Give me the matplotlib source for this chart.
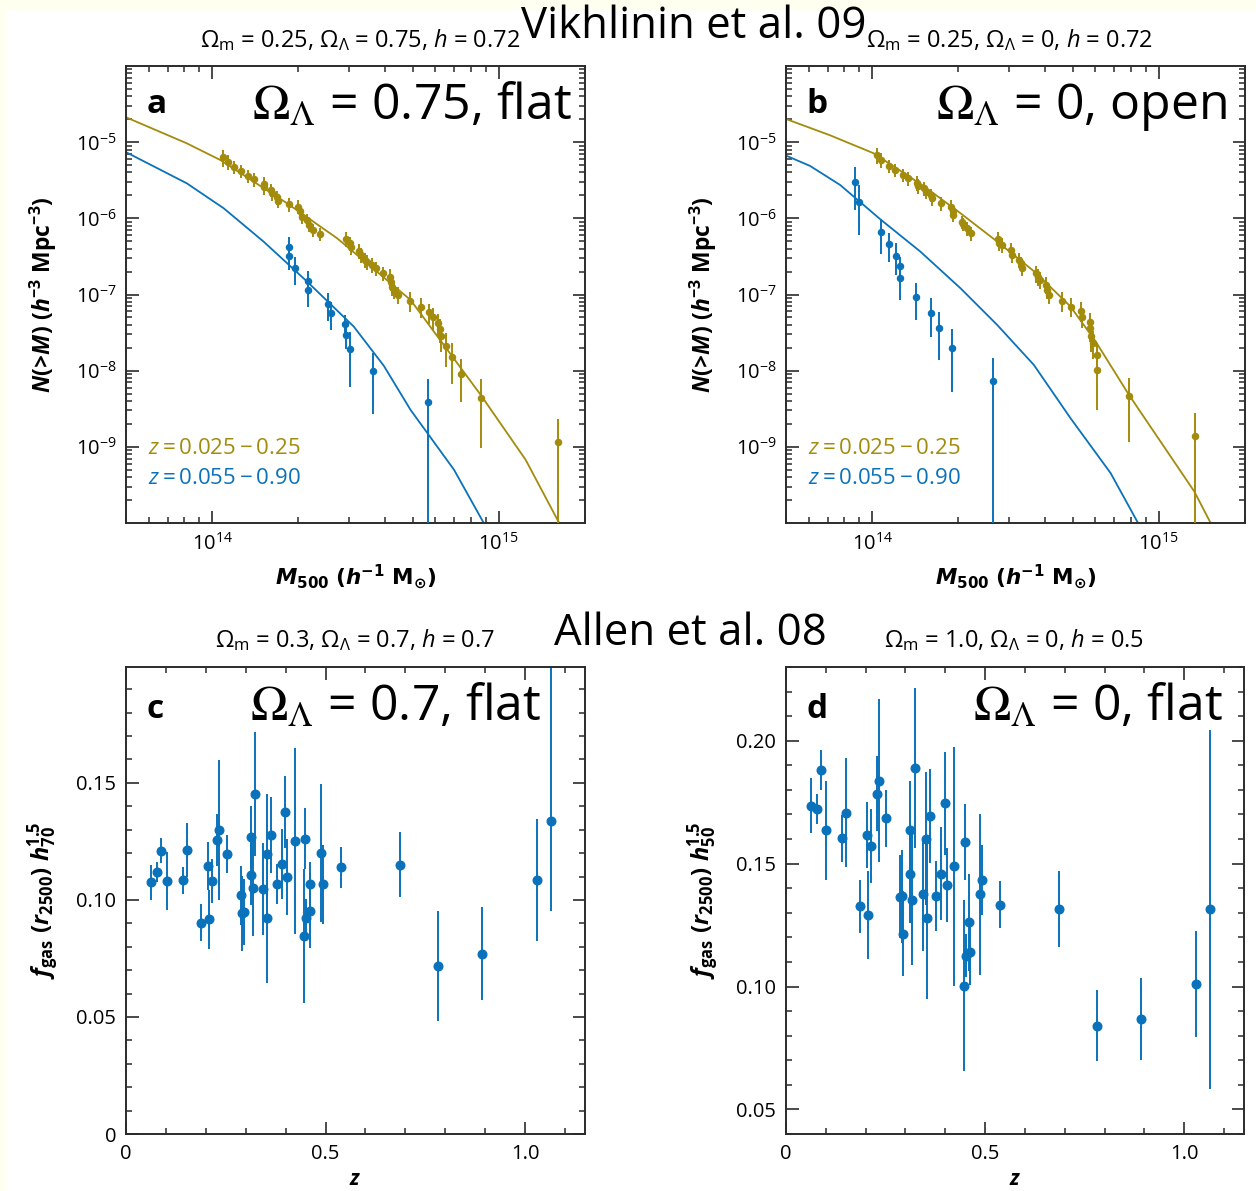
import numpy as np
import matplotlib
matplotlib.use('Agg')
import matplotlib.pyplot as plt
from matplotlib.patches import Rectangle
from matplotlib.ticker import MultipleLocator, FixedLocator

plt.rcParams['font.family'] = ['Open Sans', 'DejaVu Sans']
plt.rcParams['mathtext.fontset'] = 'custom'
plt.rcParams['mathtext.rm'] = 'Open Sans'
plt.rcParams['mathtext.it'] = 'Open Sans:italic'
plt.rcParams['mathtext.bf'] = 'Open Sans:bold'
plt.rcParams['mathtext.bfit'] = 'Open Sans:italic:bold'

OLIVE = '#A38B0C'
BLUE = '#0A72BA'

# ---------------- Vikhlinin et al. 09 : cumulative mass functions ----------------
# model curves (log10 M, log10 N)
a_low_logM = [13.702, 13.911, 14.028, 14.261, 14.436, 14.692, 14.937, 15.094, 15.225]
a_low_logN = [-4.678, -5.015, -5.234, -5.802, -6.262, -7.071, -8.318, -9.171, -10.10]
a_high_logM = [13.702, 13.911, 14.040, 14.179, 14.331, 14.494, 14.599, 14.692, 14.844, 14.955]
a_high_logN = [-5.137, -5.540, -5.868, -6.305, -6.830, -7.421, -7.937, -8.514, -9.302, -10.05]

b_low_logM = [13.702, 13.853, 14.005, 14.179, 14.308, 14.436, 14.570, 14.692, 14.780, 14.896, 15.124, 15.188]
b_low_logN = [-4.700, -4.910, -5.146, -5.575, -5.933, -6.305, -6.712, -7.158, -7.618, -8.318, -9.586, -10.05]
b_high_logM = [13.702, 13.783, 13.888, 14.028, 14.168, 14.308, 14.436, 14.564, 14.692, 14.832, 14.935]
b_high_logN = [-5.181, -5.312, -5.562, -6.012, -6.437, -6.918, -7.399, -7.924, -8.624, -9.345, -10.05]

# data: M500 in units of 1e14 h^-1 Msun, N(>M), fractional error
a_low_M = [1.09, 1.134, 1.19, 1.26, 1.33, 1.40, 1.51, 1.52, 1.60, 1.62, 1.68, 1.70, 1.86, 2.00, 2.03, 2.06,
           2.14, 2.17, 2.24, 2.37, 2.94, 3.02, 3.05, 3.25, 3.31, 3.40, 3.46, 3.62, 3.72, 3.94, 4.17, 4.21,
           4.25, 4.31, 4.45, 4.90, 5.34, 5.69, 5.91, 6.15, 6.24, 6.27, 6.53, 6.85, 7.36, 8.70, 16.1]
a_low_N = [6.3e-6, 5.55e-6, 4.77e-6, 4.19e-6, 3.64e-6, 3.26e-6, 2.83e-6, 2.61e-6, 2.36e-6, 2.13e-6,
           1.89e-6, 1.71e-6, 1.53e-6, 1.43e-6, 1.23e-6, 1.05e-6, 9.5e-7, 8.2e-7, 7.05e-7, 6.24e-7,
           5.37e-7, 4.71e-7, 4.26e-7, 3.77e-7, 3.31e-7, 2.85e-7, 2.71e-7, 2.45e-7, 2.21e-7, 1.90e-7,
           1.72e-7, 1.48e-7, 1.27e-7, 1.15e-7, 9.9e-8, 8.3e-8, 6.95e-8, 5.85e-8, 5.03e-8, 4.20e-8,
           3.50e-8, 2.81e-8, 2.12e-8, 1.49e-8, 9.1e-9, 4.35e-9, 1.15e-9]
a_low_err = [0.25, 0.22, 0.2, 0.2, 0.2, 0.2, 0.22, 0.22, 0.2, 0.2, 0.2, 0.2, 0.2, 0.2, 0.2, 0.2, 0.2, 0.2,
             0.2, 0.2, 0.22, 0.22, 0.22, 0.22, 0.22, 0.22, 0.22, 0.22, 0.22, 0.22, 0.25, 0.25, 0.25, 0.25,
             0.25, 0.28, 0.3, 0.3, 0.32, 0.32, 0.35, 0.38, 0.48, 0.55, 0.58, 0.78, 0.99]

a_high_M = [1.85, 1.86, 1.95, 2.16, 2.16, 2.54, 2.59, 2.90, 2.93, 3.02, 3.64, 5.66]
a_high_N = [4.26e-7, 3.21e-7, 2.21e-7, 1.51e-7, 1.13e-7, 7.45e-8, 5.68e-8, 4.11e-8, 2.95e-8,
            1.93e-8, 9.9e-9, 3.9e-9]
a_high_err = [0.35, 0.35, 0.4, 0.35, 0.4, 0.4, 0.4, 0.3, 0.35, 0.68, 0.73, 0.99]

b_low_M = [1.04, 1.07, 1.14, 1.20, 1.28, 1.33, 1.43, 1.45, 1.52, 1.54, 1.60, 1.62, 1.74, 1.88, 1.91, 1.92,
           2.06, 2.07, 2.14, 2.22, 2.74, 2.78, 2.84, 3.04, 3.08, 3.25, 3.31, 3.34, 3.72, 3.79, 3.85, 4.05,
           4.08, 4.14, 4.58, 4.95, 5.34, 5.41, 5.75, 5.75, 5.82, 5.89, 6.07, 6.11, 7.87, 13.4]
b_low_N = [6.79e-6, 5.84e-6, 4.87e-6, 4.32e-6, 3.71e-6, 3.36e-6, 2.94e-6, 2.66e-6, 2.48e-6, 2.24e-6,
           2.03e-6, 1.83e-6, 1.58e-6, 1.43e-6, 1.23e-6, 1.11e-6, 9.06e-7, 8.44e-7, 7.41e-7, 6.37e-7,
           5.37e-7, 4.80e-7, 4.48e-7, 3.85e-7, 3.31e-7, 2.85e-7, 2.57e-7, 2.21e-7, 1.90e-7, 1.72e-7,
           1.56e-7, 1.34e-7, 1.15e-7, 9.9e-8, 8.3e-8, 6.95e-8, 6.15e-8, 5.13e-8, 4.33e-8, 3.61e-8,
           2.86e-8, 2.34e-8, 1.61e-8, 1.02e-8, 4.58e-9, 1.39e-9]
b_low_err = [0.25, 0.22, 0.2, 0.2, 0.2, 0.2, 0.22, 0.22, 0.2, 0.2, 0.2, 0.2, 0.2, 0.2, 0.2, 0.2, 0.2, 0.2,
             0.2, 0.2, 0.22, 0.22, 0.22, 0.22, 0.22, 0.22, 0.22, 0.22, 0.25, 0.25, 0.25, 0.25, 0.25, 0.25,
             0.28, 0.28, 0.3, 0.3, 0.32, 0.35, 0.38, 0.4, 0.45, 0.7, 0.75, 0.99]

b_high_M = [0.874, 0.90, 1.075, 1.14, 1.21, 1.25, 1.25, 1.42, 1.60, 1.71, 1.90, 2.64]
b_high_N = [3.03e-6, 1.66e-6, 6.63e-7, 4.57e-7, 3.24e-7, 2.37e-7, 1.64e-7, 9.3e-8, 5.8e-8, 3.68e-8,
            2.01e-8, 7.35e-9]
b_high_err = [0.57, 0.64, 0.48, 0.42, 0.45, 0.3, 0.48, 0.5, 0.53, 0.62, 0.74, 0.99]

# ---------------- Allen et al. 08 : gas mass fraction vs redshift ----------------
c_z = [0.0625, 0.0767, 0.0875, 0.1025, 0.1417, 0.1517, 0.1875, 0.205, 0.2075, 0.215, 0.229, 0.234,
       0.2525, 0.2875, 0.29, 0.296, 0.313, 0.313, 0.3175, 0.3233, 0.344, 0.3525, 0.354, 0.363, 0.3775,
       0.391, 0.398, 0.404, 0.4225, 0.446, 0.448, 0.451, 0.461, 0.462, 0.4875, 0.4933, 0.538, 0.687,
       0.7825, 0.8925, 1.029, 1.065]
c_fgas = [0.1076, 0.1118, 0.1211, 0.108, 0.1083, 0.1214, 0.0903, 0.1145, 0.0917, 0.108, 0.1256, 0.1299,
          0.1197, 0.102, 0.0943, 0.0949, 0.1268, 0.1107, 0.1051, 0.1452, 0.1048, 0.1195, 0.0924, 0.1278,
          0.1068, 0.1154, 0.1375, 0.1097, 0.1252, 0.0846, 0.1261, 0.0924, 0.1068, 0.0954, 0.1199, 0.1067,
          0.114, 0.1151, 0.0718, 0.0771, 0.1085, 0.1339]
c_err_lo = [0.0075, 0.0043, 0.0053, 0.0124, 0.0059, 0.0114, 0.008, 0.0102, 0.0127, 0.0093, 0.011, 0.03,
            0.0082, 0.0127, 0.016, 0.0142, 0.0135, 0.013, 0.0207, 0.0265, 0.0196, 0.0259, 0.0278, 0.0162,
            0.0085, 0.015, 0.0153, 0.0162, 0.0397, 0.0288, 0.013, 0.008, 0.0095, 0.0158, 0.0295, 0.0169,
            0.0088, 0.014, 0.0236, 0.0198, 0.0261, 0.0387]
c_err_hi = c_err_lo[:-1] + [0.075]

d_z = [0.0617, 0.0767, 0.0875, 0.1008, 0.141, 0.151, 0.1867, 0.204, 0.2067, 0.214, 0.228, 0.234,
       0.2517, 0.2858, 0.2917, 0.294, 0.3117, 0.3117, 0.3167, 0.3233, 0.3433, 0.3508, 0.354, 0.3617,
       0.3767, 0.39, 0.3983, 0.4033, 0.4225, 0.4458, 0.449, 0.4517, 0.46, 0.4617, 0.4867, 0.4933,
       0.5383, 0.685, 0.7817, 0.8925, 1.029, 1.064]
d_fgas = [0.1735, 0.1723, 0.188, 0.1635, 0.1603, 0.1707, 0.1326, 0.1617, 0.1291, 0.1572, 0.1785, 0.1838,
          0.1684, 0.1366, 0.1368, 0.1215, 0.1636, 0.1458, 0.1353, 0.189, 0.1375, 0.1602, 0.1277, 0.1693,
          0.1368, 0.1459, 0.1745, 0.1413, 0.1489, 0.1004, 0.1588, 0.1125, 0.1261, 0.1142, 0.1375, 0.1434,
          0.1333, 0.1315, 0.084, 0.0867, 0.1011, 0.1314]
d_err = [0.0112, 0.006, 0.0082, 0.02, 0.0096, 0.0221, 0.0109, 0.0134, 0.0179, 0.0149, 0.0153, 0.033,
         0.0117, 0.017, 0.0189, 0.0173, 0.0199, 0.02, 0.0267, 0.0326, 0.0232, 0.0272, 0.0328, 0.0192,
         0.0143, 0.019, 0.0208, 0.0149, 0.0486, 0.0346, 0.0154, 0.0088, 0.0196, 0.0135, 0.0328, 0.0143,
         0.0096, 0.0153, 0.0144, 0.0166, 0.0216, 0.073]

W, H = 1256, 1191
fig = plt.figure(figsize=(W / 100, H / 100), dpi=100)
fig.patch.set_facecolor('white')
# thin cream strips along top and left edges
fig.patches.append(Rectangle((0, 1 - 9 / H), 1, 9 / H, transform=fig.transFigure, color='#FFFFF0', zorder=-10))
fig.patches.append(Rectangle((0, 0), 5 / W, 1, transform=fig.transFigure, color='#FFFFF0', zorder=-10))


def px_ax(left, top, right, bottom):
    return fig.add_axes([left / W, 1 - bottom / H, (right - left) / W, (bottom - top) / H])


def ftext(x, y, s, **kw):
    fig.text(x / W, 1 - y / H, s, **kw)


def style(ax):
    for sp in ax.spines.values():
        sp.set_linewidth(1.4)
        sp.set_color('#2b2b2b')
    ax.tick_params(which='both', direction='in', top=True, right=True, color='#2b2b2b',
                   labelsize=14.5, pad=7)
    ax.tick_params(which='major', length=9, width=1.2)
    ax.tick_params(which='minor', length=4.5, width=1.1)


def mass_panel(ax, curves, data, letter, label, label_x):
    ax.set_xscale('log')
    ax.set_yscale('log')
    for lm, ln, col in curves:
        ax.plot(10 ** np.array(lm), 10 ** np.array(ln), color=col, lw=1.3, zorder=2)
    for m, n, e, col in data:
        m = np.array(m) * 1e14
        n = np.array(n)
        e = np.array(e)
        ax.errorbar(m, n, yerr=n * e, fmt='o', color=col, ms=4.4, elinewidth=1.4,
                    capsize=0, zorder=3)
    ax.set_xlim(5e13, 2e15)
    ax.set_ylim(1e-10, 1e-4)
    ax.xaxis.set_major_locator(FixedLocator([1e14, 1e15]))
    ax.yaxis.set_major_locator(FixedLocator([1e-9, 1e-8, 1e-7, 1e-6, 1e-5]))
    style(ax)
    ax.set_xlabel(r'$\bfit{M}_{\mathbf{500}}\ \mathbf{(}\bfit{h}^{\mathbf{-1}}\ \mathbf{M}_{\odot}\mathbf{)}$',
                  fontsize=15.5, labelpad=6, math_fontfamily='dejavusans')
    ax.set_ylabel(r'$\bfit{N}\mathbf{(}\!{>}\!\bfit{M}\mathbf{)\ (}\bfit{h}^{\mathbf{-3}}\mathbf{\ Mpc}^{\mathbf{-3}}\mathbf{)}$',
                  fontsize=16.5, labelpad=12)
    ax.text(0.045, 0.915, letter, transform=ax.transAxes, fontsize=24, fontweight='bold',
            va='center', ha='left')
    ax.text(label_x, 0.91, label, transform=ax.transAxes, fontsize=36, va='center', ha='right',
            math_fontfamily='stix')
    ax.text(0.048, 0.163, r'$z = 0.025 - 0.25$', transform=ax.transAxes, fontsize=16,
            color=OLIVE, va='center', ha='left')
    ax.text(0.048, 0.098, r'$z = 0.055 - 0.90$', transform=ax.transAxes, fontsize=16,
            color=BLUE, va='center', ha='left')


def fgas_panel(ax, z, f, err, letter, label, label_x, ylim, hsub):
    ax.errorbar(z, f, yerr=err, fmt='o', color=BLUE, ms=6.2, elinewidth=1.4, capsize=0)
    ax.set_xlim(0, 1.15)
    ax.set_ylim(*ylim)
    ax.xaxis.set_major_locator(MultipleLocator(0.5))
    ax.xaxis.set_minor_locator(MultipleLocator(0.1))
    ax.yaxis.set_major_locator(MultipleLocator(0.05))
    ax.yaxis.set_minor_locator(MultipleLocator(0.01))
    style(ax)
    ax.xaxis.set_major_formatter(plt.FuncFormatter(lambda v, p: '0' if v == 0 else f'{v:.1f}'))
    ax.yaxis.set_major_formatter(plt.FuncFormatter(lambda v, p: '0' if abs(v) < 1e-9 else f'{v:.2f}'))
    ax.set_xlabel(r'$\bfit{z}$', fontsize=15, labelpad=4)
    ax.set_ylabel(r'$\bfit{f}_{\mathbf{gas}}\ \mathbf{(}\bfit{r}_{\mathbf{2500}}\mathbf{)}\ \bfit{h}_{\mathbf{'
                  + hsub + r'}}^{\mathbf{1.5}}$', fontsize=17, labelpad=12)
    ax.text(0.045, 0.91, letter, transform=ax.transAxes, fontsize=24, fontweight='bold',
            va='center', ha='left')
    ax.text(label_x, 0.912, label, transform=ax.transAxes, fontsize=36,
            va='center', ha='right', math_fontfamily='stix')


ax_a = px_ax(126, 66, 585, 523)
mass_panel(ax_a, [(a_low_logM, a_low_logN, OLIVE), (a_high_logM, a_high_logN, BLUE)],
           [(a_low_M, a_low_N, a_low_err, OLIVE), (a_high_M, a_high_N, a_high_err, BLUE)],
           'a', r'$\Omega_\Lambda$ = 0.75, flat', 0.972)

ax_b = px_ax(786, 66, 1245, 523)
mass_panel(ax_b, [(b_low_logM, b_low_logN, OLIVE), (b_high_logM, b_high_logN, BLUE)],
           [(b_low_M, b_low_N, b_low_err, OLIVE), (b_high_M, b_high_N, b_high_err, BLUE)],
           'b', r'$\Omega_\Lambda$ = 0, open', 0.962)

ax_c = px_ax(126, 667, 585, 1134)
fgas_panel(ax_c, c_z, c_fgas, [c_err_lo, c_err_hi], 'c', r'$\Omega_\Lambda$ = 0.7, flat', 0.906,
           (0, 0.1995), '70')

ax_d = px_ax(786, 667, 1244, 1134)
fgas_panel(ax_d, d_z, d_fgas, d_err, 'd', r'$\Omega_\Lambda$ = 0, flat', 0.953, (0.04, 0.23), '50')

# headers
ftext(694, 38, 'Vikhlinin et al. 09', fontsize=31.5, ha='center', va='baseline')
ftext(520, 40, r'$\Omega_\mathrm{m}$ = 0.25, $\Omega_\Lambda$ = 0.75, $h$ = 0.72', fontsize=17,
      ha='right', va='center')
ftext(866, 40, r'$\Omega_\mathrm{m}$ = 0.25, $\Omega_\Lambda$ = 0, $h$ = 0.72', fontsize=17,
      ha='left', va='center')
ftext(690, 645, 'Allen et al. 08', fontsize=31.5, ha='center', va='baseline')
ftext(355, 640, r'$\Omega_\mathrm{m}$ = 0.3, $\Omega_\Lambda$ = 0.7, $h$ = 0.7', fontsize=17,
      ha='center', va='center')
ftext(1014, 640, r'$\Omega_\mathrm{m}$ = 1.0, $\Omega_\Lambda$ = 0, $h$ = 0.5', fontsize=17,
      ha='center', va='center')

fig.savefig('out.png', dpi=100)
